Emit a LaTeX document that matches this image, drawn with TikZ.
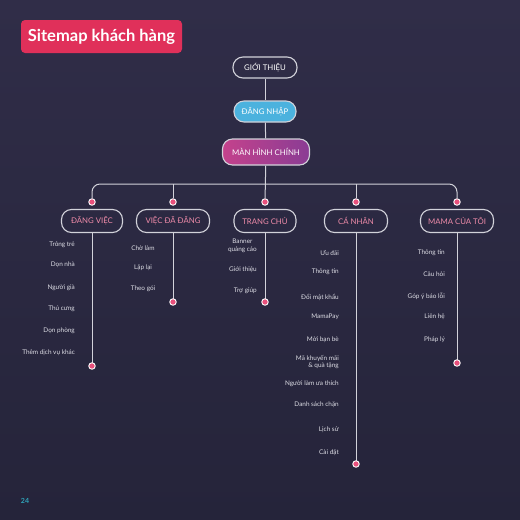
\documentclass[tikz,border=0pt]{standalone}
\usepackage{fontspec}
\setmainfont{Lato}
\usepackage{xcolor}
\usetikzlibrary{positioning}
\definecolor{bgtop}{HTML}{302D48}
\definecolor{bgbot}{HTML}{25243A}
\definecolor{titlered}{HTML}{E0305A}
\definecolor{loginblue}{HTML}{4BB2DE}
\definecolor{mainpink}{HTML}{C4428C}
\definecolor{mainpurple}{HTML}{8A3C94}
\definecolor{catpink}{HTML}{F08CAA}
\definecolor{linegray}{HTML}{D2D2DA}
\definecolor{itemgray}{HTML}{DCDCE4}
\definecolor{dotpink}{HTML}{E8507C}
\definecolor{pageteal}{HTML}{2FA3B8}
\tikzset{
  pill/.style={draw=linegray,line width=1.1pt,rounded corners=10pt,minimum height=21pt,
    inner xsep=5pt,font=\fontsize{7.8}{9}\selectfont},
  topbox/.style={pill,text=white},
  catbox/.style={pill,text=catpink,minimum height=23pt},
  % small bullets on the tree
  dot/.style={circle,fill=dotpink,draw=white,line width=0.9pt,minimum size=6.5pt,inner sep=0pt},
  link/.style={linegray,line width=1pt},
  item/.style={text=itemgray,font=\fontsize{6.4}{7.8}\selectfont,inner sep=1pt},
  titlebox/.style={fill=titlered,rounded corners=4pt,text=white,minimum width=161pt,
    minimum height=33pt,font=\fontsize{16.5}{18}\selectfont\bfseries},
}
\begin{document}
\begin{tikzpicture}[x=1pt,y=-1pt]
%% background
\shade[top color=bgtop,bottom color=bgbot] (0,0) rectangle (520,520);
\useasboundingbox (0,0) rectangle (520,520);

%% title
\node[titlebox] (title) at (101.5,36.5) {Sitemap khách hàng};

%% main chain
\node[topbox,minimum width=64pt] (intro) at (265,67.5) {GIỚI THIỆU};
\node[topbox,minimum width=62pt,fill=loginblue] (login) at (265,111.5) {ĐĂNG NHẬP};
\node[topbox,minimum width=87pt,minimum height=26pt,left color=mainpink,right color=mainpurple]
  (home) at (266,152) {MÀN HÌNH CHÍNH};
\draw[link] (intro) -- (login);
\draw[link] (login) -- (home);

\coordinate (bus) at (265,184);

%% categories: x / name / label / width / end of stem
\foreach \x/\nm/\lbl/\w/\ey in {92/dv/{ĐĂNG VIỆC}/61/366, 173/vd/{VIỆC ĐÃ ĐĂNG}/73/302,
    265/tc/{TRANG CHỦ}/62/302, 356/cn/{CÁ NHÂN}/63/464, 457/mm/{MAMA CỦA TÔI}/73/363}{
  \node[dot] (\nm-top) at (\x,202) {};
  \node[catbox,minimum width=\w] (\nm) at (\x,221) {\lbl};
  \draw[link] (\nm) -- (\x,\ey) node[dot] (\nm-end) {};
}

%% bus between the categories
\draw[link,rounded corners=8pt] (dv-top.north) |- (bus) -| (mm-top.north);
\draw[link] (home) -- (tc-top);
\draw[link] (vd-top.north) -- (vd-top.north |- bus);
\draw[link] (cn-top.north) -- (cn-top.north |- bus);

%% items
\foreach \t/\y [count=\i] in {Trông trẻ/245, Dọn nhà/265, Người già/288, Thú cưng/309,
    Dọn phòng/331, Thêm dịch vụ khác/353}
  \node[item,anchor=east] (dv-\i) at (76,\y) {\t};
\foreach \t/\y [count=\i] in {Chờ làm/248, Lặp lại/268, Theo gói/289}
  \node[item] (vd-\i) at (143,\y) {\t};
\foreach \t/\y [count=\i] in {{Banner\\quảng cáo}/246, Giới thiệu/270, Trợ giúp/291}
  \node[item,anchor=east,align=center] (tc-\i) at (258,\y) {\t};
\foreach \t/\y [count=\i] in {Ưu đãi/253, Thông tin/272, Đổi mật khẩu/297, MamaPay/317,
    Mời bạn bè/340, {Mã khuyến mãi\\\& quà tặng}/362, Người làm ưa thích/384,
    Danh sách chặn/405, Lịch sử/430, Cài đặt/453}
  \node[item,anchor=east,align=right] (cn-\i) at (340,\y) {\t};
\foreach \t/\y [count=\i] in {Thông tin/253, Câu hỏi/274, Góp ý báo lỗi/296, Liên hệ/317,
    Pháp lý/340}
  \node[item,anchor=east] (mm-\i) at (446,\y) {\t};

%% page number
\node[text=pageteal,font=\fontsize{7}{8}\selectfont\bfseries] (page) at (25,501) {24};
\end{tikzpicture}
\end{document}
